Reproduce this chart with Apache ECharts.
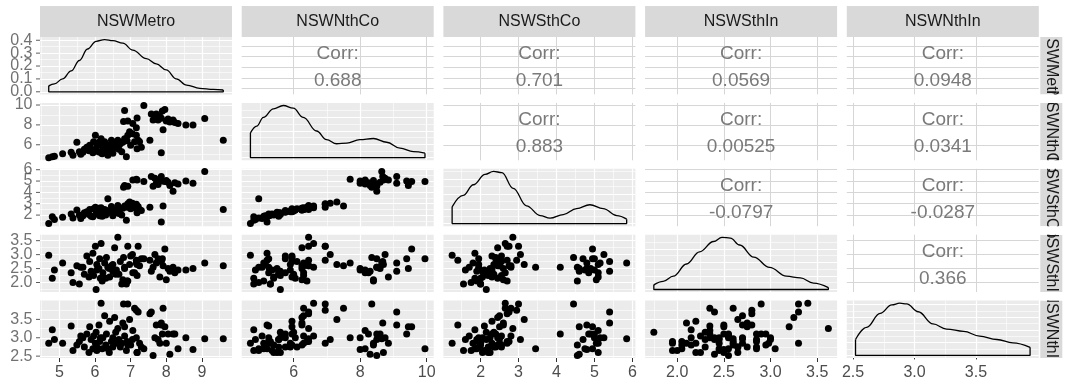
<!DOCTYPE html>
<html>
<head>
<meta charset="utf-8">
<script src="https://cdn.jsdelivr.net/npm/echarts@6/dist/echarts.min.js"></script>
<style>
  html, body { margin: 0; padding: 0; background: #fff; }
  #chart { width: 1068px; height: 383px; }
</style>
</head>
<body>
<div id="chart"></div>
<script>
// variable names (facet strips)
const varNames = ['NSWMetro', 'NSWNthCo', 'NSWSthCo', 'NSWSthIn', 'NSWNthIn'];

const metro = [4.70, 4.80, 4.86, 5.09, 5.33, 5.38, 5.49, 5.56, 5.66, 5.70,
  5.77, 5.83, 5.85, 5.89, 5.94, 5.96, 6.01, 6.03, 6.05, 6.11,
  6.13, 6.17, 6.22, 6.27, 6.30, 6.32, 6.36, 6.41, 6.46, 6.50,
  6.55, 6.60, 6.64, 6.67, 6.71, 6.78, 6.83, 6.88, 6.92, 6.97,
  7.05, 7.11, 7.16, 7.18, 7.21, 7.25, 7.30, 7.54, 7.86, 9.60,
  6.20, 6.40, 6.75, 5.60, 6.05, 6.58, 7.00, 6.90, 6.15, 6.50,
  6.83, 6.80, 6.92, 7.06, 7.16, 7.18, 7.37, 7.58, 7.63, 7.68,
  7.72, 7.77, 7.82, 7.86, 7.89, 7.91, 7.96, 8.00, 8.05, 8.10,
  8.19, 8.24, 8.33, 8.55, 8.75, 9.08];
const nthCo = [4.70, 4.80, 4.85, 5.10, 5.25, 4.95, 6.25, 5.30, 5.25, 5.55,
  5.75, 5.40, 5.95, 5.55, 5.20, 6.30, 6.95, 5.60, 5.90, 6.25,
  5.25, 6.60, 5.75, 6.30, 5.40, 5.95, 4.95, 5.95, 6.45, 5.60,
  6.25, 5.90, 6.45, 5.55, 6.10, 6.25, 6.60, 4.80, 6.95, 7.30,
  7.10, 6.30, 6.95, 5.60, 6.45, 6.30, 5.75, 6.45, 5.20, 6.45,
  5.10, 5.50, 5.30, 5.05, 5.35, 6.00, 5.95, 6.40, 6.05, 5.15,
  9.45, 8.35, 8.40, 8.15, 7.70, 8.70, 9.95, 9.10, 8.50, 8.75,
  9.10, 8.50, 8.85, 8.68, 9.40, 7.50, 9.55, 8.40, 8.60, 8.30,
  8.50, 8.25, 8.15, 8.00, 8.00, 8.65];
const sthCo = [1.25, 1.85, 1.60, 1.80, 2.10, 1.75, 2.45, 2.00, 1.95, 2.20,
  2.30, 2.05, 2.50, 1.90, 1.85, 2.55, 2.70, 2.15, 2.35, 2.60,
  1.95, 2.65, 2.25, 2.50, 2.00, 2.40, 3.45, 2.30, 2.75, 2.05,
  2.45, 2.30, 2.85, 2.15, 2.55, 2.60, 2.80, 1.55, 3.00, 3.15,
  3.05, 2.65, 2.95, 2.20, 2.75, 2.50, 2.40, 2.70, 1.40, 2.50,
  1.90, 2.25, 2.00, 1.70, 2.10, 2.35, 2.55, 2.70, 2.45, 1.95,
  4.60, 4.45, 4.55, 5.10, 5.15, 5.10, 4.95, 5.40, 4.55, 5.25,
  4.80, 4.70, 5.10, 5.40, 5.00, 2.80, 4.95, 5.05, 4.90, 4.60,
  4.10, 4.85, 4.75, 5.00, 4.80, 5.85];
const sthIn = [2.98, 2.15, 2.45, 2.70, 2.35, 2.00, 2.60, 1.95, 2.55, 2.30,
  2.95, 2.20, 2.75, 2.40, 3.05, 2.25, 3.30, 1.75, 2.65, 2.50,
  2.85, 3.40, 2.35, 2.70, 2.15, 2.90, 2.55, 2.20, 2.60, 2.40,
  3.25, 2.45, 3.62, 2.30, 2.75, 2.10, 2.55, 1.95, 3.30, 2.65,
  3.00, 2.35, 2.80, 2.25, 3.30, 2.60, 2.85, 2.80, 2.80, 2.60,
  2.05, 2.50, 1.95, 2.55, 2.45, 2.30, 2.95, 2.05, 2.15, 2.65,
  2.50, 2.90, 2.05, 2.35, 2.70, 2.65, 2.85, 2.40, 2.55, 3.00,
  2.70, 2.85, 2.20, 2.75, 2.85, 2.60, 3.20, 2.10, 2.50, 2.40,
  2.55, 2.35, 2.45, 2.45, 2.50, 2.70];
const nthIn = [2.85, 3.22, 2.95, 2.85, 3.32, 2.65, 2.80, 2.90, 3.00, 2.75,
  3.10, 2.60, 3.30, 2.95, 2.70, 3.05, 2.85, 3.15, 2.75, 3.35,
  2.90, 3.94, 3.00, 3.60, 2.80, 3.10, 2.70, 3.45, 2.90, 3.00,
  3.55, 2.85, 3.25, 2.95, 2.75, 3.40, 3.05, 2.65, 3.92, 3.50,
  2.95, 3.80, 3.75, 2.60, 3.70, 2.85, 2.75, 3.65, 3.35, 2.97,
  2.70, 2.60, 2.85, 3.05, 2.65, 3.15, 2.80, 2.90, 3.00, 2.75,
  3.30, 3.92, 2.80, 3.20, 3.00, 2.60, 2.70, 3.70, 2.52, 3.00,
  3.35, 2.95, 2.85, 3.40, 3.10, 3.80, 3.30, 2.85, 3.10, 2.55,
  3.10, 3.10, 2.70, 3.00, 2.68, 2.97];

// density curves on the diagonal
const metroDensX = [4.70, 4.86, 5.09, 5.33, 5.56, 5.79, 6.03, 6.27, 6.50, 6.78, 7.06, 7.44, 7.72, 8.00, 8.28, 8.57, 8.94, 9.32, 9.60];
const metroDensY = [0.046, 0.062, 0.100, 0.162, 0.243, 0.332, 0.392, 0.405, 0.397, 0.378, 0.324, 0.257, 0.216, 0.170, 0.100, 0.052, 0.027, 0.019, 0.014];
const nthCoDensX = [4.70, 4.89, 5.09, 5.39, 5.69, 5.99, 6.29, 6.69, 6.99, 7.29, 7.60, 7.99, 8.40, 8.80, 9.20, 9.60, 9.95];
const nthCoDensY = [0.185, 0.236, 0.300, 0.364, 0.389, 0.369, 0.300, 0.199, 0.135, 0.104, 0.109, 0.135, 0.143, 0.115, 0.071, 0.045, 0.034];
const sthCoDensX = [1.25, 1.54, 1.81, 2.12, 2.34, 2.56, 2.86, 3.21, 3.57, 3.83, 4.18, 4.53, 4.88, 5.23, 5.59, 5.85];
const sthCoDensY = [0.113, 0.190, 0.262, 0.332, 0.352, 0.344, 0.238, 0.120, 0.054, 0.037, 0.061, 0.101, 0.127, 0.101, 0.054, 0.030];
const sthInDensX = [1.75, 1.85, 1.96, 2.10, 2.24, 2.39, 2.48, 2.57, 2.67, 2.82, 2.99, 3.17, 3.32, 3.46, 3.62];
const sthInDensY = [0.086, 0.150, 0.245, 0.470, 0.693, 0.885, 0.962, 0.948, 0.820, 0.598, 0.406, 0.245, 0.215, 0.119, 0.035];
const nthInDensX = [2.52, 2.61, 2.72, 2.815, 2.88, 2.936, 3.03, 3.15, 3.26, 3.40, 3.53, 3.67, 3.80, 3.94];
const nthInDensY = [0.250, 0.440, 0.660, 0.793, 0.820, 0.810, 0.686, 0.495, 0.414, 0.377, 0.304, 0.250, 0.197, 0.126];

// correlations of the upper panels, row by row
const corrLabels = ['0.688', '0.701', '0.0569', '0.0948', '0.883', '0.00525', '0.0341', '-0.0797', '-0.0287', '0.366'];

// axis breaks
const metroTicks = [5, 6, 7, 8, 9];
const nthCoTicks = [6, 8, 10];
const sthCoTicks = [2, 3, 4, 5, 6];
const sthInTicks = [2.0, 2.5, 3.0, 3.5];
const nthInTicks = [2.5, 3.0, 3.5];
const metroDensTicks = [0.0, 0.1, 0.2, 0.3, 0.4];
const nthCoDensTicks = [0.0, 0.1, 0.2, 0.3];
const sthCoDensTicks = [0.0, 0.1, 0.2, 0.3];
const sthInDensTicks = [0.0, 0.25, 0.5, 0.75];
const nthInDensTicks = [0.0, 0.2, 0.4, 0.6, 0.8];

const cols = [metro, nthCo, sthCo, sthIn, nthIn];
const ticks = [metroTicks, nthCoTicks, sthCoTicks, sthInTicks, nthInTicks];
const decimals = [0, 0, 0, 1, 1];
const densX = [metroDensX, nthCoDensX, sthCoDensX, sthInDensX, nthInDensX];
const densY = [metroDensY, nthCoDensY, sthCoDensY, sthInDensY, nthInDensY];
const densTicks = [metroDensTicks, nthCoDensTicks, sthCoDensTicks, sthInDensTicks, nthInDensTicks];

const FONT = 'Liberation Sans, Arial, sans-serif';
// panel layout
const PL = 40, PW = 192, GX = 9.7;
const PT = 37, PH = 57.4, GY = 8.5;

// ggplot style 5% expansion
function expand(lo, hi) {
  const e = (hi - lo) * 0.05;
  return [lo - e, hi + e];
}
const ranges = cols.map(a => expand(Math.min(...a), Math.max(...a)));
const densRanges = densY.map(a => expand(0, Math.max(...a)));

function minorsOf(t, rng) {
  const s = t[1] - t[0];
  const out = [];
  for (let v = t[0] - s / 2; v <= rng[1]; v += s) {
    if (v >= rng[0]) out.push(+v.toFixed(6));
  }
  return out;
}

function axisCfg(gi, rng, tks, showLab, dec) {
  return {
    gridIndex: gi,
    type: 'value',
    min: rng[0],
    max: rng[1],
    axisLine: { show: false },
    axisTick: { show: showLab, customValues: tks, interval: 0, length: 4, lineStyle: { color: '#333333', width: 1 } },
    axisLabel: {
      show: showLab, customValues: tks, interval: 0, margin: 7,
      hideOverlap: false, showMinLabel: true, showMaxLabel: true,
      formatter: v => (+v).toFixed(dec),
      color: '#4D4D4D', fontSize: 16, fontFamily: FONT
    },
    splitLine: { show: false }
  };
}

function gridLineSeries(gi, xr, yr, xt, yt, upper) {
  const lines = [];
  const major = upper ? { color: '#D6D6D6', width: 1, type: 'solid' } : { color: '#FFFFFF', width: 1.2, type: 'solid' };
  const minor = { color: '#FFFFFF', width: 0.6, type: 'solid' };
  if (!upper) {
    minorsOf(xt, xr).forEach(v => lines.push({ xAxis: v, lineStyle: minor }));
    minorsOf(yt, yr).forEach(v => lines.push({ yAxis: v, lineStyle: minor }));
  }
  xt.filter(v => v >= xr[0] && v <= xr[1]).forEach(v => lines.push({ xAxis: v, lineStyle: major }));
  yt.filter(v => v >= yr[0] && v <= yr[1]).forEach(v => lines.push({ yAxis: v, lineStyle: major }));
  return {
    type: 'line',
    xAxisIndex: gi, yAxisIndex: gi,
    data: [[xr[0], yr[0]]],
    showSymbol: false, symbol: 'none',
    lineStyle: { opacity: 0 },
    silent: true, z: 1,
    markLine: {
      silent: true, symbol: 'none', z: 1, animation: false,
      label: { show: false },
      emphasis: { disabled: true },
      data: lines
    }
  };
}

// left-column tick marks and labels, placed through the panel's own scales
// (the axis would drop labels that overlap, the reference keeps them all)
function leftLabelSeries(gi, xr, yt, dec) {
  return {
    type: 'scatter',
    xAxisIndex: gi, yAxisIndex: gi,
    data: yt.map(v => [xr[0], v]),
    symbol: 'rect', symbolSize: [4, 1], symbolOffset: [-2, 0],
    itemStyle: { color: '#333333' },
    clip: false, silent: true, z: 4,
    label: {
      show: true, position: 'left', distance: 3.5,
      formatter: p => (+p.value[1]).toFixed(dec),
      color: '#4D4D4D', fontSize: 16, fontFamily: FONT
    },
    labelLayout: { hideOverlap: false }
  };
}

const grids = [], xAxes = [], yAxes = [], series = [], graphics = [];
let gi = 0, ci = 0;
for (let r = 0; r < 5; r++) {
  for (let c = 0; c < 5; c++) {
    const left = PL + c * (PW + GX);
    const top = PT + r * (PH + GY);
    const diag = r === c;
    const upper = c > r;
    grids.push({
      left: left, top: top, width: PW, height: PH,
      show: !upper, backgroundColor: '#EBEBEB', borderWidth: 0, borderColor: 'transparent'
    });
    const xr = ranges[c];
    const yr = diag ? densRanges[c] : ranges[r];
    const xt = ticks[c];
    const yt = diag ? densTicks[c] : ticks[r];
    xAxes.push(axisCfg(gi, xr, xt, r === 4, decimals[c]));
    yAxes.push(axisCfg(gi, yr, yt, false, 1));
    series.push(gridLineSeries(gi, xr, yr, xt, yt, upper));
    if (c === 0) series.push(leftLabelSeries(gi, xr, yt, diag ? 1 : decimals[r]));

    if (diag) {
      const dx = densX[c], dy = densY[c];
      series.push({
        type: 'line', xAxisIndex: gi, yAxisIndex: gi,
        data: dx.map((x, i) => [x, dy[i]]),
        smooth: 0.4, smoothMonotone: 'x',
        showSymbol: false, symbol: 'none', silent: true, z: 3,
        lineStyle: { color: '#000', width: 1.3 }
      });
      const n = dx.length - 1;
      series.push({
        type: 'line', xAxisIndex: gi, yAxisIndex: gi,
        data: [[dx[0], dy[0]], [dx[0], 0], [dx[n], 0], [dx[n], dy[n]]],
        showSymbol: false, symbol: 'none', silent: true, z: 3,
        lineStyle: { color: '#000', width: 1.3 }
      });
    } else if (!upper) {
      series.push({
        type: 'scatter', xAxisIndex: gi, yAxisIndex: gi,
        data: cols[c].map((v, i) => [v, cols[r][i]]),
        symbolSize: 7, silent: true, z: 3,
        itemStyle: { color: '#000', opacity: 1 }
      });
    } else {
      graphics.push({
        type: 'text', x: left + PW / 2, y: top + PH / 2 + 2, z: 10,
        style: {
          text: 'Corr:\n' + corrLabels[ci], fill: '#7A7A7A',
          font: '19px ' + FONT, lineHeight: 27,
          align: 'center', verticalAlign: 'middle',
          textAlign: 'center', textVerticalAlign: 'middle'
        }
      });
      ci++;
    }
    gi++;
  }
}

// facet strips
for (let c = 0; c < 5; c++) {
  const left = PL + c * (PW + GX);
  graphics.push({ type: 'rect', shape: { x: left, y: 6, width: PW, height: PT - 6 }, style: { fill: '#D9D9D9' }, z: 10 });
  graphics.push({
    type: 'text', x: left + PW / 2, y: (6 + PT) / 2, z: 11,
    style: { text: varNames[c], fill: '#1A1A1A', font: '16px ' + FONT, align: 'center', verticalAlign: 'middle', textAlign: 'center', textVerticalAlign: 'middle' }
  });
}
const SX = PL + 5 * PW + 4 * GX + 1.5;
for (let r = 0; r < 5; r++) {
  const top = PT + r * (PH + GY);
  graphics.push({ type: 'rect', shape: { x: SX, y: top, width: 22, height: PH }, style: { fill: '#D9D9D9' }, z: 10 });
  graphics.push({
    type: 'text', x: SX + 11, y: top + PH / 2, rotation: -Math.PI / 2, z: 11,
    style: { text: varNames[r], fill: '#1A1A1A', font: '16px ' + FONT, align: 'center', verticalAlign: 'middle', textAlign: 'center', textVerticalAlign: 'middle' }
  });
  // white masks clip the strip text to its box
  graphics.push({ type: 'rect', shape: { x: SX, y: top - GY, width: 40, height: GY }, style: { fill: '#FFFFFF' }, z: 12 });
}
graphics.push({ type: 'rect', shape: { x: SX, y: 0, width: 40, height: PT }, style: { fill: '#FFFFFF' }, z: 12 });
graphics.push({ type: 'rect', shape: { x: SX, y: PT + 5 * PH + 4 * GY, width: 40, height: 40 }, style: { fill: '#FFFFFF' }, z: 12 });

const chart = echarts.init(document.getElementById('chart'), null, { renderer: 'canvas' });
chart.setOption({
  animation: false,
  backgroundColor: '#FFFFFF',
  textStyle: { fontFamily: FONT },
  grid: grids,
  xAxis: xAxes,
  yAxis: yAxes,
  series: series,
  graphic: { elements: graphics }
});
</script>
</body>
</html>
